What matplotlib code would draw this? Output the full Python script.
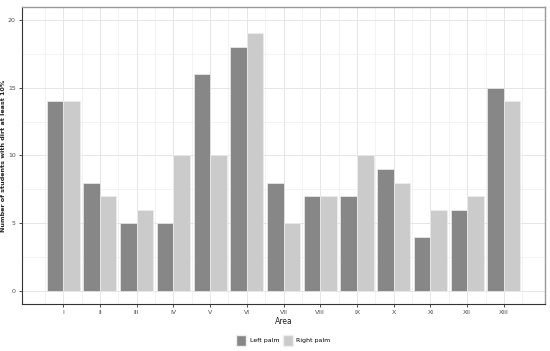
import matplotlib.pyplot as plt
import numpy as np
from matplotlib.patches import Patch

areas = ["I", "II", "III", "IV", "V", "VI", "VII", "VIII", "IX", "X", "XI", "XII", "XIII"]
left_palm = [14, 8, 5, 5, 16, 18, 8, 7, 7, 9, 4, 6, 15]
right_palm = [14, 7, 6, 10, 10, 19, 5, 7, 10, 8, 6, 7, 14]

dark = "#878787"
light = "#cbcbcb"

fig = plt.figure(figsize=(5.5, 3.51), dpi=100)
ax = fig.add_axes([0.04, 0.134, 0.951, 0.846])

x = np.arange(len(areas))
w = 0.45
ax.bar(x - w / 2, left_palm, w, color=dark, edgecolor="#eeeeee", linewidth=0.5, zorder=3)
ax.bar(x + w / 2, right_palm, w, color=light, edgecolor="#eeeeee", linewidth=0.5, zorder=3)

ax.set_xlim(-1.12, 13.12)
ax.set_ylim(-0.95, 20.95)
ax.set_xticks(x)
ax.set_xticklabels(areas)
ax.set_yticks([0, 5, 10, 15, 20])
ax.set_xticks(np.arange(-0.5, 13, 1), minor=True)
ax.set_yticks([2.5, 7.5, 12.5, 17.5], minor=True)
ax.grid(True, which="major", color="#e6e6e6", linewidth=0.7, zorder=0)
ax.grid(True, which="minor", color="#efefef", linewidth=0.5, zorder=0)
ax.tick_params(which="minor", length=0)
ax.tick_params(which="major", length=2.5, width=0.6, color="#333333",
               labelsize=4.5, labelcolor="#4d4d4d", pad=2)

for side in ["top", "right"]:
    ax.spines[side].set_color("#999999")
    ax.spines[side].set_linewidth(1.0)
for side in ["left", "bottom"]:
    ax.spines[side].set_color("#333333")
    ax.spines[side].set_linewidth(0.8)

ax.set_ylabel("Number of students with dirt at least 10%", fontsize=4.6, fontweight="bold",
              color="#222222")
ax.yaxis.set_label_coords(-0.031, 0.5)
ax.set_xlabel("Area", fontsize=5.5, color="#222222", labelpad=1)

handles = [Patch(facecolor=dark, edgecolor="#eeeeee", label="Left palm"),
           Patch(facecolor=light, edgecolor="#eeeeee", label="Right palm")]
fig.legend(handles=handles, loc="center", bbox_to_anchor=(0.515, 0.03), ncol=2,
           frameon=False, fontsize=4.5, handlelength=1.6, handleheight=2.2,
           handletextpad=0.5, columnspacing=0.6)

fig.savefig("out.png", dpi=100)
